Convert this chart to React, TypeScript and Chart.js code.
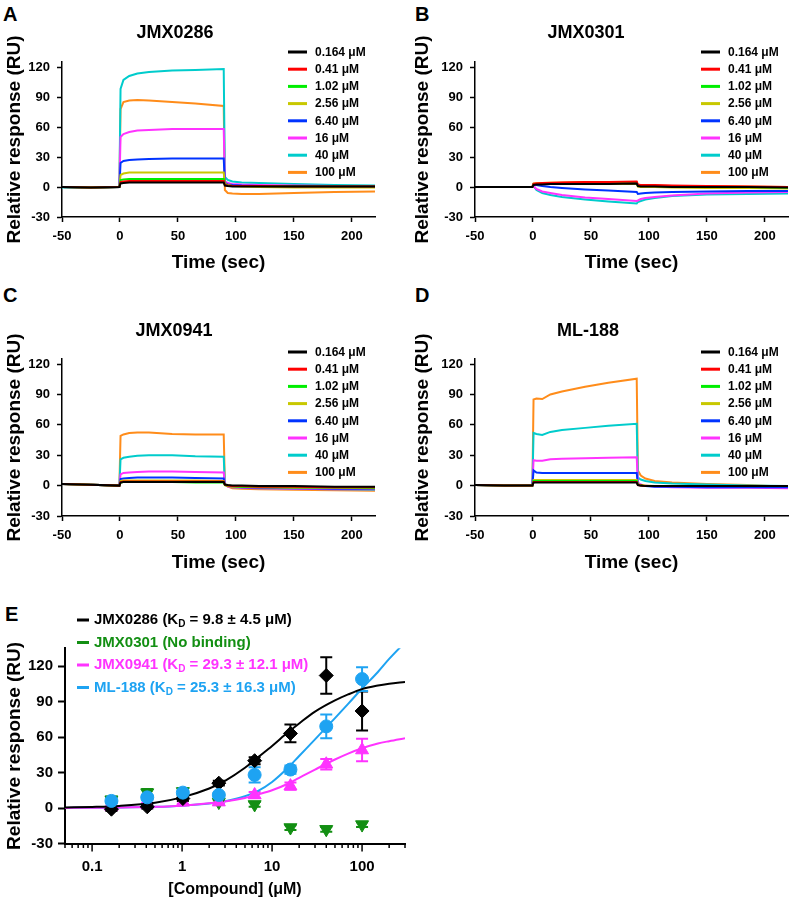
import React, { useEffect, useRef } from 'react';
import { Chart, registerables } from 'chart.js';

Chart.register(...registerables);

const FONT = '"Liberation Sans", Arial, Helvetica, sans-serif';
Chart.defaults.font.family = FONT;
Chart.defaults.color = '#000';

// ---------- Sensorgram data (panels A-D) ----------
const TIME_SEC = [-50, -25, -0.5, 0.5, 3, 8, 15, 25, 45, 65, 89.5, 90.5, 93, 97, 105, 120, 150, 185, 220];
const CONC_LABELS = ['0.164 μM', '0.41 μM', '1.02 μM', '2.56 μM', '6.40 μM', '16 μM', '40 μM', '100 μM'];
const CONC_COLORS = ['#000000', '#ff0000', '#00ee00', '#c8c800', '#0033ff', '#ff33ff', '#00cccc', '#ff8c1a'];
const TIME_TICKS = [-50, 0, 50, 100, 150, 200];
const RU_TICKS = [-30, 0, 30, 60, 90, 120];

const JMX0286_RU = [
  [0, -0.5, 0, 3.5, 4, 4.5, 4.5, 4.5, 4.5, 4.5, 4.5, 1.5, 1, 0.5, 0.5, 0.5, 0.5, 0.5, 0.5],
  [0, -0.5, 0, 5, 5.5, 6, 6, 6, 6, 6, 6, 2, 1.5, 1, 1, 1, 0.5, 0.5, 0.5],
  [0, -0.5, 0, 7, 7.5, 8, 8, 8, 8, 8, 8, 2, 1.5, 1, 1, 1, 0.5, 0.5, 0.5],
  [0, -0.5, 0, 12, 13.5, 14.5, 14.5, 14.5, 14.5, 14.5, 14.5, 3, 2, 1, 0.5, 0, -0.5, -0.5, -0.5],
  [0, -0.5, 0, 24, 26, 27, 27.5, 28, 28.5, 28.5, 28.5, 4, 2.5, 2, 1.5, 1, 1, 0.5, 0.5],
  [0, -0.5, 0, 50, 53, 55, 56.5, 57, 58, 58, 58, 6, 4, 3, 2.5, 2, 1.5, 1, 1],
  [-0.5, -1, 0, 98, 107, 111, 113.5, 115, 116.5, 117, 118, 10, 7, 5.5, 4.5, 4, 3, 2, 1.5],
  [0, -0.5, 0, 78, 85, 86.5, 87, 86.5, 85, 83.5, 81, -3, -6, -6.5, -7, -7, -6, -5, -4.5],
];

const JMX0301_RU = [
  [0, 0, 0, 2, 2.5, 2.5, 3, 3, 3, 3, 3.5, 1, 0.5, 0.5, 0.5, 0, 0, 0, -0.5],
  [0, 0, 0, 3, 3.5, 4, 4, 4.5, 5, 5, 5.5, 2.5, 2, 2, 2, 1.5, 1, 0.5, 0],
  [0, 0, 0, 3, 3, 3.5, 3.5, 3.5, 4, 4, 4, 1.5, 1, 1, 1, 0.5, 0, 0, -0.5],
  [0, 0, 0, 3, 3, 3, 3, 3, 3, 3, 3, 0.5, 0, 0, 0, -0.5, -1, -1, -1.5],
  [0, 0, 0, 3, 2, 1, 0, -1, -2.5, -3.5, -5, -7, -6.5, -6, -5.5, -5, -4.5, -4, -4],
  [0, 0, 0, 1, -2, -4.5, -6, -8, -10.5, -12, -14, -13.5, -12, -11, -10, -8.5, -6.5, -5.5, -5],
  [0, 0, 0, 1, -3, -6, -8, -10, -12.5, -14.5, -16.5, -15, -14, -12.5, -11, -9, -7.5, -7, -6.5],
  [0, 0, 0, 3.5, 4, 4, 4.5, 4.5, 5, 5, 5, 2, 1.5, 1.5, 1.5, 1, 1, 0.5, 0],
];

const JMX0941_RU = [
  [1.5, 0.8, 0, 3, 3.5, 3.5, 3.5, 3.5, 3.5, 3.5, 3.5, 1, 0.5, 0, 0, -0.5, -0.5, -1, -1],
  [1.5, 0.8, 0, 3.5, 4, 4, 4, 4, 4, 4, 4, 1, 0, -0.5, -0.5, -1, -1, -1.5, -1.5],
  [1.5, 0.8, 0, 3, 3.5, 3.5, 3.5, 3.5, 3.5, 3, 3, 0.5, 0, -0.5, -1, -1, -1.5, -1.5, -2],
  [1.5, 0.8, 0, 4.5, 5, 5, 5, 5, 5, 5, 4.5, 0.5, -0.5, -1, -1, -1.5, -2, -2, -2.5],
  [1.5, 0.8, 0, 6.5, 7, 7.5, 8, 8, 8, 7.5, 7, 1, -0.5, -1, -1.5, -2, -2.5, -3, -3],
  [1.5, 0.8, 0, 11, 12.5, 13, 13.5, 14, 14, 13.5, 13, 1, -1, -1.5, -2, -2.5, -3, -3.5, -3.5],
  [1.5, 0.8, 0, 26, 27.5, 28.5, 29.5, 30, 30, 29, 28.5, 1.5, -0.5, -1.5, -2, -2.5, -3, -3.5, -4],
  [1.5, 0.8, 0, 49, 50.5, 52, 52.5, 52.5, 51, 50.5, 50.5, 2, -1, -2.5, -3, -3.5, -4, -4.5, -5],
];

const ML188_RU = [
  [0.5, 0, 0, 3, 3, 3, 3, 3, 3, 3, 3, 0.5, 0, -0.5, -0.5, -0.5, -0.5, -0.5, -0.5],
  [0.5, 0, 0, 3.5, 3.5, 3.5, 3.5, 3.5, 3.5, 3.5, 3.5, 0.5, 0, -0.5, -0.5, -0.5, -0.5, -0.5, -0.5],
  [0.5, 0, 0, 4.5, 4.5, 4.5, 4.5, 4.5, 4.5, 4.5, 4.5, 1, 0, -0.5, -0.5, -0.5, -0.5, -0.5, -0.5],
  [0.5, 0, 0, 5.5, 5.5, 5.5, 5.5, 5.5, 5.5, 5.5, 5.5, 1.5, 0.5, 0, -0.5, -0.5, -0.5, -0.5, -0.5],
  [0.5, 0, 0, 15, 13, 12.5, 12.5, 12.5, 12.5, 12.5, 12.5, 1, 0, -0.5, -1, -1, -1.5, -1.5, -1.5],
  [0.5, 0, 0, 25, 24.5, 24.5, 26, 26.5, 27, 27.5, 28, 3, 1, 0, -1, -1.5, -2, -2, -2.5],
  [0.5, 0, 0, 52, 51, 50, 53, 55, 57, 59, 61, 8, 6, 4.5, 3, 2, 1, 0, -0.5],
  [0.5, 0, 0, 85, 86, 85.5, 90, 93, 97.5, 101.5, 105.5, 15, 10, 7, 4.5, 3, 1.5, 0.5, -1],
];

// ---------- Dose-response data (panel E) ----------
const CONC_UM = [0.164, 0.41, 1.02, 2.56, 6.4, 16, 40, 100];
const JMX0286_MEAN = [-1, 1, 8, 21, 40, 63, 112, 82];
const JMX0286_ERR = [1.5, 1.5, 2, 2, 3, 7.5, 15.5, 16.5];
const JMX0301_MEAN = [7, 13, 14, 5, 3, -16.5, -18, -14];
const JMX0301_ERR = [2.5, 3, 2.5, 2, 2, 2, 2, 2];
const JMX0941_MEAN = [1, 3, 5, 5, 11, 18.5, 37, 49];
const JMX0941_ERR = [1, 1.5, 1.5, 1.5, 2.5, 3, 4.5, 9.5];
const ML188_MEAN = [6, 9, 13, 11, 28, 32.5, 69, 109];
const ML188_ERR = [2, 2, 2, 2, 6.5, 3.5, 10, 10];

const FIT_CONC = [0.05, 0.1, 0.2, 0.5, 1, 2, 3, 5, 7, 10, 15, 20, 30, 50, 70, 100, 150, 200, 300];
const JMX0286_FIT = [0.4, 0.9, 1.8, 4.5, 9, 16.5, 23, 34, 43, 52.5, 64, 71.5, 81.5, 91, 96, 100.5, 103.5, 105, 106.5];
const JMX0941_FIT = [0.1, 0.2, 0.4, 1, 2, 4, 5.5, 8.5, 11.5, 15, 20.5, 25.5, 32.5, 41, 46, 50.5, 54.5, 56.5, 59];
const ML188_FIT = [0.1, 0.2, 0.4, 1, 2, 3.8, 5.8, 10, 14.5, 22, 34, 44, 58, 76, 88, 101, 115, 126, 140];

const E_X_TICKS = [
  0.05, 0.06, 0.07, 0.08, 0.09,
  0.1, 0.2, 0.3, 0.4, 0.5, 0.6, 0.7, 0.8, 0.9,
  1, 2, 3, 4, 5, 6, 7, 8, 9,
  10, 20, 30, 40, 50, 60, 70, 80, 90,
  100, 200, 300,
];
const E_X_LABELS = [0.1, 1, 10, 100];

const E_BLACK = '#000000';
const E_GREEN = '#138f13';
const E_MAGENTA = '#ff33ff';
const E_BLUE = '#1ea3f2';

const E_LEGEND = [
  { name: 'JMX0286', kd: '9.8 ± 4.5 μM', color: E_BLACK },
  { name: 'JMX0301', kd: null, color: E_GREEN },
  { name: 'JMX0941', kd: '29.3 ± 12.1 μM', color: E_MAGENTA },
  { name: 'ML-188', kd: '25.3 ± 16.3 μM', color: E_BLUE },
];

// ---------- Panel layouts ----------
type PanelCfg = {
  id: string;
  title: string;
  series: number[][];
  left: number; top: number; width: number; height: number;
  area: { l: number; r: number; t: number; b: number };
  titleX: number; titleY: number; legendY: number;
};

const PANELS: PanelCfg[] = [
  { id: 'A', title: 'JMX0286', series: JMX0286_RU, left: 0, top: 0, width: 395, height: 285,
    area: { l: 62, r: 375, t: 62, b: 217 }, titleX: 175, titleY: 33.5, legendY: 52 },
  { id: 'B', title: 'JMX0301', series: JMX0301_RU, left: 408, top: 0, width: 382, height: 285,
    area: { l: 67, r: 380, t: 62, b: 217 }, titleX: 178, titleY: 33.5, legendY: 52 },
  { id: 'C', title: 'JMX0941', series: JMX0941_RU, left: 0, top: 300, width: 395, height: 285,
    area: { l: 62, r: 375, t: 59, b: 216 }, titleX: 174, titleY: 31.5, legendY: 52 },
  { id: 'D', title: 'ML-188', series: ML188_RU, left: 408, top: 300, width: 382, height: 285,
    area: { l: 67, r: 380, t: 59, b: 216 }, titleX: 180, titleY: 31.5, legendY: 52 },
];

const LETTERS = [
  { t: 'A', x: 3, y: 4 },
  { t: 'B', x: 415, y: 4 },
  { t: 'C', x: 3, y: 285 },
  { t: 'D', x: 415, y: 285 },
  { t: 'E', x: 5, y: 604 },
];

const decoPlugin = {
  id: 'deco',
  afterDraw(chart: any, _args: any, opts: any) {
    const ctx = chart.ctx;
    const ca = chart.chartArea;
    ctx.save();
    ctx.fillStyle = '#000';
    ctx.font = `bold 18px ${FONT}`;
    ctx.textAlign = 'center';
    ctx.textBaseline = 'middle';
    ctx.fillText(opts.title, opts.titleX, opts.titleY);
    ctx.font = `bold 12px ${FONT}`;
    ctx.textAlign = 'left';
    chart.data.datasets.forEach((ds: any, i: number) => {
      const y = opts.legendY + i * 17.2;
      ctx.strokeStyle = ds.borderColor;
      ctx.lineWidth = 3;
      ctx.beginPath();
      ctx.moveTo(ca.right - 87, y);
      ctx.lineTo(ca.right - 68, y);
      ctx.stroke();
      ctx.fillStyle = '#000';
      ctx.fillText(ds.label, ca.right - 60, y + 0.5);
    });
    ctx.restore();
  },
};

function SensorPanel({ p }: { p: PanelCfg }) {
  const ref = useRef<HTMLCanvasElement>(null);
  useEffect(() => {
    if (!ref.current) return;
    const chart = new Chart(ref.current, {
      type: 'scatter',
      data: {
        datasets: p.series.map((vals, i) => ({
          label: CONC_LABELS[i],
          data: vals.map((y, j) => ({ x: TIME_SEC[j], y })),
          showLine: true,
          borderColor: CONC_COLORS[i],
          backgroundColor: CONC_COLORS[i],
          borderWidth: 2,
          pointRadius: 0,
          tension: 0,
        })),
      },
      options: {
        animation: false,
        responsive: false,
        maintainAspectRatio: false,
        layout: { padding: { left: 0, top: p.area.t, right: p.width - p.area.r, bottom: 0 } },
        plugins: {
          legend: { display: false },
          tooltip: { enabled: false },
          deco: { title: p.title, titleX: p.titleX, titleY: p.titleY, legendY: p.legendY },
        } as any,
        scales: {
          x: {
            type: 'linear',
            min: -50,
            max: 220,
            afterBuildTicks: (s: any) => { s.ticks = TIME_TICKS.map((v) => ({ value: v })); },
            afterFit: (s: any) => { s.height = p.height - p.area.b; },
            ticks: { font: { size: 13, weight: 'bold' }, padding: 7, color: '#000', maxRotation: 0, autoSkip: false },
            grid: { display: true, drawOnChartArea: false, drawTicks: true, tickLength: 5, tickColor: '#000', tickWidth: 1.5 },
            border: { display: true, color: '#000', width: 1.5 },
            title: { display: true, text: 'Time (sec)', font: { size: 19, weight: 'bold' }, color: '#000', padding: { top: 0, bottom: 10.6 } },
          },
          y: {
            type: 'linear',
            min: -30,
            max: 125,
            afterBuildTicks: (s: any) => { s.ticks = RU_TICKS.map((v) => ({ value: v })); },
            afterFit: (s: any) => { s.width = p.area.l; },
            ticks: { font: { size: 13, weight: 'bold' }, padding: 7, color: '#000' },
            grid: { display: true, drawOnChartArea: false, drawTicks: true, tickLength: 5, tickColor: '#000', tickWidth: 1.5 },
            border: { display: true, color: '#000', width: 1.5 },
            title: { display: true, text: 'Relative response (RU)', font: { size: 19, weight: 'bold' }, color: '#000', padding: { top: 3, bottom: 0 } },
          },
        },
      } as any,
      plugins: [decoPlugin],
    });
    return () => chart.destroy();
  }, [p]);
  return (
    <canvas
      ref={ref}
      width={p.width}
      height={p.height}
      style={{ position: 'absolute', left: p.left, top: p.top, width: p.width, height: p.height, display: 'block' }}
    />
  );
}

const E_SERIES_ERR = [
  { mean: JMX0301_MEAN, err: JMX0301_ERR, color: E_GREEN },
  { mean: JMX0941_MEAN, err: JMX0941_ERR, color: E_MAGENTA },
  { mean: JMX0286_MEAN, err: JMX0286_ERR, color: E_BLACK },
  { mean: ML188_MEAN, err: ML188_ERR, color: E_BLUE },
];

const errorBarPlugin = {
  id: 'errbars',
  beforeDatasetsDraw(chart: any) {
    const ctx = chart.ctx;
    const xs = chart.scales.x;
    const ys = chart.scales.y;
    ctx.save();
    ctx.lineWidth = 2;
    E_SERIES_ERR.forEach((s) => {
      ctx.strokeStyle = s.color;
      CONC_UM.forEach((c, i) => {
        const x = xs.getPixelForValue(c);
        const y1 = ys.getPixelForValue(s.mean[i] + s.err[i]);
        const y2 = ys.getPixelForValue(s.mean[i] - s.err[i]);
        ctx.beginPath();
        ctx.moveTo(x, y1); ctx.lineTo(x, y2);
        ctx.moveTo(x - 6, y1); ctx.lineTo(x + 6, y1);
        ctx.moveTo(x - 6, y2); ctx.lineTo(x + 6, y2);
        ctx.stroke();
      });
    });
    ctx.restore();
  },
  afterDraw(chart: any) {
    const ctx = chart.ctx;
    const xs = chart.scales.x;
    ctx.save();
    ctx.strokeStyle = '#000';
    ctx.lineWidth = 1.5;
    E_X_TICKS.forEach((v) => {
      const x = xs.getPixelForValue(v);
      const len = E_X_LABELS.includes(v) ? 8 : 4.5;
      ctx.beginPath();
      ctx.moveTo(x, xs.top);
      ctx.lineTo(x, xs.top + len);
      ctx.stroke();
    });
    // legend
    E_LEGEND.forEach((item, i) => {
      const y = 30 + i * 22.5;
      ctx.strokeStyle = item.color;
      ctx.lineWidth = 3;
      ctx.beginPath();
      ctx.moveTo(77, y);
      ctx.lineTo(89, y);
      ctx.stroke();
      ctx.fillStyle = item.color;
      ctx.textBaseline = 'middle';
      ctx.textAlign = 'left';
      let x = 94;
      ctx.font = `bold 15px ${FONT}`;
      if (item.kd === null) {
        ctx.fillText(`${item.name} (No binding)`, x, y);
      } else {
        const a = `${item.name} (K`;
        ctx.fillText(a, x, y);
        x += ctx.measureText(a).width;
        ctx.font = `bold 10px ${FONT}`;
        ctx.fillText('D', x, y + 4.5);
        x += ctx.measureText('D').width;
        ctx.font = `bold 15px ${FONT}`;
        ctx.fillText(` = ${item.kd})`, x, y);
      }
    });
    ctx.restore();
  },
};

function BindingPanel() {
  const ref = useRef<HTMLCanvasElement>(null);
  const W = 420, H = 322;
  const area = { l: 65, r: 405, t: 58.3, b: 253.5 };
  useEffect(() => {
    if (!ref.current) return;
    const pts = (mean: number[]) => mean.map((y, i) => ({ x: CONC_UM[i], y }));
    const fit = (vals: number[]) => vals.map((y, i) => ({ x: FIT_CONC[i], y }));
    const curve = (vals: number[], color: string, label: string) => ({
      label, data: fit(vals), showLine: true, borderColor: color, backgroundColor: color,
      borderWidth: 2, pointRadius: 0, cubicInterpolationMode: 'monotone', order: 10,
    });
    const marker = (mean: number[], color: string, style: string, rot: number, r: number, order: number, label: string) => ({
      label, data: pts(mean), showLine: false, pointStyle: style, rotation: rot, pointRotation: rot,
      pointRadius: r, borderColor: color, backgroundColor: color, pointBorderWidth: 1, order,
    });
    const chart = new Chart(ref.current, {
      type: 'scatter',
      data: {
        datasets: [
          curve(JMX0286_FIT, E_BLACK, 'JMX0286 fit'),
          curve(JMX0941_FIT, E_MAGENTA, 'JMX0941 fit'),
          curve(ML188_FIT, E_BLUE, 'ML-188 fit'),
          marker(JMX0301_MEAN, E_GREEN, 'triangle', 180, 7.5, 4, 'JMX0301'),
          marker(JMX0941_MEAN, E_MAGENTA, 'triangle', 0, 7.5, 3, 'JMX0941'),
          marker(JMX0286_MEAN, E_BLACK, 'rectRot', 0, 7, 2, 'JMX0286'),
          marker(ML188_MEAN, E_BLUE, 'circle', 0, 6.5, 1, 'ML-188'),
        ] as any,
      },
      options: {
        animation: false,
        responsive: false,
        maintainAspectRatio: false,
        layout: { padding: { left: 0, top: area.t, right: W - area.r, bottom: 0 } },
        plugins: { legend: { display: false }, tooltip: { enabled: false } },
        scales: {
          x: {
            type: 'logarithmic',
            min: 0.05,
            max: 300,
            afterBuildTicks: (s: any) => { s.ticks = E_X_TICKS.map((v) => ({ value: v, major: E_X_LABELS.includes(v) })); },
            afterFit: (s: any) => { s.height = H - area.b; },
            ticks: {
              autoSkip: false, maxRotation: 0, padding: 6.5, color: '#000',
              font: { size: 15, weight: 'bold' },
              callback: (v: any) => (E_X_LABELS.includes(Number(v)) ? String(v) : ''),
            },
            grid: { display: false, drawTicks: true, tickLength: 8 },
            border: { display: true, color: '#000', width: 2 },
            title: { display: true, text: '[Compound] (μM)', font: { size: 16, weight: 'bold' }, color: '#000', padding: { top: 0, bottom: 12.4 } },
          },
          y: {
            type: 'linear',
            min: -30,
            max: 135,
            afterBuildTicks: (s: any) => { s.ticks = RU_TICKS.map((v) => ({ value: v })); },
            afterFit: (s: any) => { s.width = area.l; },
            ticks: { font: { size: 15, weight: 'bold' }, padding: 5, color: '#000' },
            grid: { display: true, drawOnChartArea: false, drawTicks: true, tickLength: 7, tickColor: '#000', tickWidth: 2 },
            border: { display: true, color: '#000', width: 2 },
            title: { display: true, text: 'Relative response (RU)', font: { size: 19, weight: 'bold' }, color: '#000', padding: { top: 3, bottom: 0 } },
          },
        },
      } as any,
      plugins: [errorBarPlugin],
    });
    return () => chart.destroy();
  }, []);
  return (
    <canvas
      ref={ref}
      width={W}
      height={H}
      style={{ position: 'absolute', left: 0, top: 590, width: W, height: H, display: 'block' }}
    />
  );
}

export default function App() {
  return (
    <div style={{ position: 'absolute', left: 0, top: 0, width: 790, height: 912, background: '#fff', overflow: 'hidden' }}>
      {LETTERS.map((l) => (
        <div
          key={l.t}
          style={{ position: 'absolute', left: l.x, top: l.y, font: `bold 20px ${FONT}`, lineHeight: '20px', color: '#000' }}
        >
          {l.t}
        </div>
      ))}
      {PANELS.map((p) => (
        <SensorPanel key={p.id} p={p} />
      ))}
      <BindingPanel />
    </div>
  );
}
